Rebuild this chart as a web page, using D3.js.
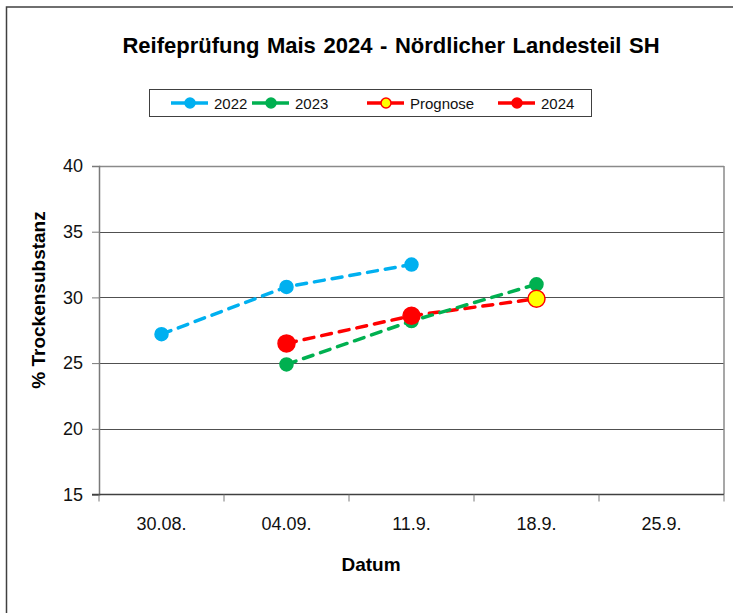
<!DOCTYPE html>
<html>
<head>
<meta charset="utf-8">
<script src="https://cdn.jsdelivr.net/npm/d3@7"></script>
<style>
  body { margin: 0; background: #fff; }
  svg { display: block; font-family: "Liberation Sans", Arial, sans-serif; }
</style>
</head>
<body>
<svg id="chart" width="733" height="613"></svg>
<script>
const categories = ["30.08.", "04.09.", "11.9.", "18.9.", "25.9."];
const values2022 = [27.2, 30.8, 32.5, null, null];
const values2023 = [null, 24.9, 28.2, 31.0, null];
const valuesPrognose = [null, null, 28.6, 29.9, null];
const values2024 = [null, 26.5, 28.6, null, null];
const yTicks = [15, 20, 25, 30, 35, 40];

(function () {
const series = [
  { name: "2022", values: values2022, color: "#00B0F0", fill: "#00B0F0", stroke: "#00B0F0", r: 6.5 },
  { name: "2023", values: values2023, color: "#00B050", fill: "#00B050", stroke: "#00B050", r: 6.5 },
  { name: "Prognose", values: valuesPrognose, color: "#FF0000", fill: "#FFFF00", stroke: "#FF0000", r: 8.5, markerIdx: [3] },
  { name: "2024", values: values2024, color: "#FF0000", fill: "#FF0000", stroke: "#FF0000", r: 8.5 }
];

const svg = d3.select("#chart");
const pLeft = 99, pRight = 724, pTop = 166, pBottom = 494.5;

// outer chart border
svg.append("rect").attr("x", 6.5).attr("y", 7).attr("width", 800).attr("height", 700)
  .attr("fill", "none").attr("stroke", "#404040").attr("stroke-width", 1.5);

const x = d3.scaleBand().domain(categories).range([pLeft, pRight]);
const y = d3.scaleLinear().domain([15, 40]).range([pBottom, pTop]);

// gridlines
svg.append("g").selectAll("line").data(yTicks.filter(t => t > 15 && t < 40)).join("line")
  .attr("x1", pLeft).attr("x2", pRight)
  .attr("y1", d => Math.round(y(d)) + 0.5).attr("y2", d => Math.round(y(d)) + 0.5)
  .attr("stroke", "#505050").attr("stroke-width", 1);

// plot frame top / right
svg.append("line").attr("x1", pLeft).attr("x2", pRight).attr("y1", pTop + 0.5).attr("y2", pTop + 0.5)
  .attr("stroke", "#8a8a8a").attr("stroke-width", 1.5);
svg.append("line").attr("x1", pRight).attr("x2", pRight).attr("y1", pTop).attr("y2", pBottom)
  .attr("stroke", "#8a8a8a").attr("stroke-width", 1.5);

// y axis
const yAxis = d3.axisLeft(y).tickValues(yTicks).tickSize(7).tickPadding(9).tickFormat(d3.format("d"));
const gy = svg.append("g").attr("transform", `translate(${pLeft},0)`).call(yAxis);
gy.select(".domain").attr("stroke", "#7a7a7a").attr("stroke-width", 1.5);
gy.selectAll(".tick line").attr("stroke", "#7a7a7a");
gy.selectAll(".tick text").attr("font-size", 18).attr("fill", "#111")
  .attr("font-family", "'Liberation Sans', Arial, sans-serif");

// x axis (ticks at category boundaries)
const gx = svg.append("g").attr("transform", `translate(0,${pBottom})`);
gx.append("line").attr("x1", pLeft - 7).attr("x2", pRight).attr("y1", 0).attr("y2", 0)
  .attr("stroke", "#404040").attr("stroke-width", 1.5);
const bounds = categories.map(c => x(c)).concat([pRight]);
gx.selectAll(".bt").data(bounds).join("line")
  .attr("x1", d => d).attr("x2", d => d).attr("y1", 0).attr("y2", 7)
  .attr("stroke", "#7a7a7a").attr("stroke-width", 1);
gx.selectAll(".lbl").data(categories).join("text")
  .attr("x", d => x(d) + x.bandwidth() / 2).attr("y", 35)
  .attr("text-anchor", "middle").attr("font-size", 18).attr("fill", "#111")
  .text(d => d);

const cx = i => x(categories[i]) + x.bandwidth() / 2;

// lines
const lineGen = d3.line().defined(d => d.v != null).x(d => cx(d.i)).y(d => y(d.v));
const lineOrder = [series[0], series[2], series[1], series[3]];
lineOrder.forEach(s => {
  svg.append("path")
    .datum(s.values.map((v, i) => ({ v, i })))
    .attr("d", lineGen)
    .attr("fill", "none")
    .attr("stroke", s.color)
    .attr("stroke-width", 3.5)
    .attr("stroke-dasharray", "10,8")
    .attr("stroke-linecap", "round");
});

// markers
series.forEach(s => {
  const pts = s.values.map((v, i) => ({ v, i })).filter(d => d.v != null && (!s.markerIdx || s.markerIdx.includes(d.i)));
  svg.append("g").selectAll("circle").data(pts).join("circle")
    .attr("cx", d => cx(d.i)).attr("cy", d => y(d.v)).attr("r", s.r)
    .attr("fill", s.fill).attr("stroke", s.stroke).attr("stroke-width", 1.5);
});

// title
svg.append("text").attr("x", 391).attr("y", 53).attr("text-anchor", "middle")
  .attr("font-size", 22).attr("font-weight", "bold").attr("fill", "#000")
  .attr("word-spacing", 1.5)
  .text("Reifeprüfung Mais 2024 - Nördlicher Landesteil SH");

// axis titles
svg.append("text").attr("x", 371).attr("y", 571).attr("text-anchor", "middle")
  .attr("font-size", 19).attr("font-weight", "bold").text("Datum");
svg.append("text").attr("transform", `translate(45,300) rotate(-90)`).attr("text-anchor", "middle")
  .attr("font-size", 19).attr("font-weight", "bold").text("% Trockensubstanz");

// legend
const lg = svg.append("g");
lg.append("rect").attr("x", 149.5).attr("y", 89.5).attr("width", 442).attr("height", 27)
  .attr("fill", "#fff").attr("stroke", "#404040").attr("stroke-width", 1);
const legendX = [171, 252, 367, 498];
series.forEach((s, k) => {
  const x0 = legendX[k];
  lg.append("line").attr("x1", x0).attr("x2", x0 + 37).attr("y1", 103).attr("y2", 103)
    .attr("stroke", s.color).attr("stroke-width", 3.5);
  lg.append("circle").attr("cx", x0 + 19).attr("cy", 103).attr("r", 5)
    .attr("fill", s.fill).attr("stroke", s.stroke).attr("stroke-width", 1.5);
  lg.append("text").attr("x", x0 + 43).attr("y", 108.5).attr("font-size", 15).attr("fill", "#111")
    .text(s.name);
});
})();
</script>
</body>
</html>
